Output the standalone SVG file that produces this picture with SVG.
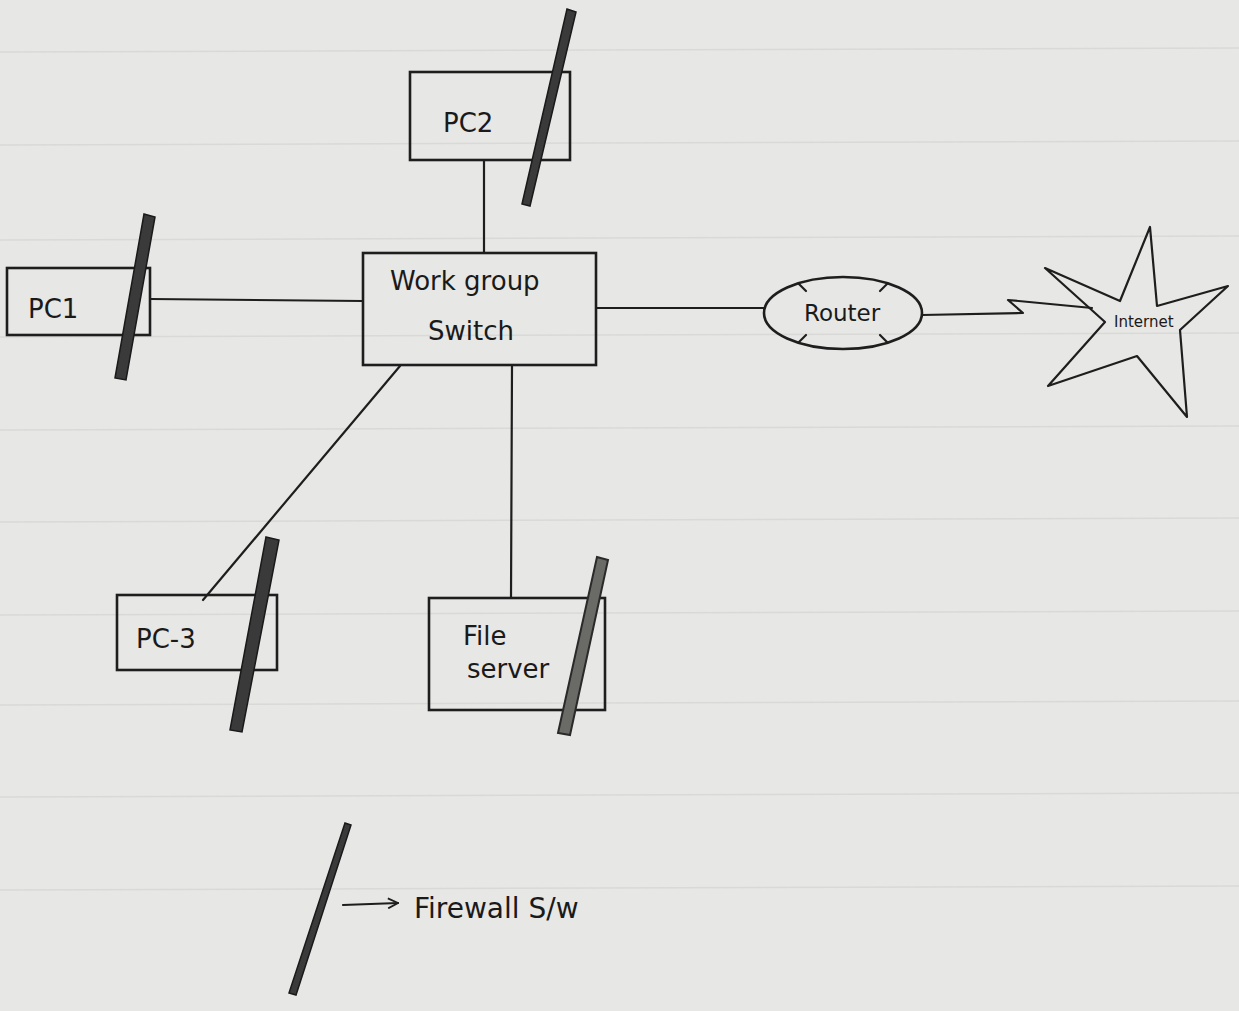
<svg xmlns="http://www.w3.org/2000/svg" width="1239" height="1011" viewBox="0 0 1239 1011">
<defs>
<style>
.box{fill:none;stroke:#1e1e1e;stroke-width:2.6}
.ln{fill:none;stroke:#1e1e1e;stroke-width:2.2;stroke-linecap:round;stroke-linejoin:round}
.fw{fill:#3a3a3a;stroke:#1a1a1a;stroke-width:1.5}
.fwl{fill:#6a6a66;stroke:#2a2a2a;stroke-width:2}
.lbl{font-family:"DejaVu Sans","Liberation Sans",sans-serif;fill:#1a1a1a;font-size:26px}
.rule{stroke:#d9d9d7;stroke-width:1.5}
</style>
<marker id="arr" viewBox="0 0 12 12" refX="11" refY="6" markerWidth="12" markerHeight="12" markerUnits="userSpaceOnUse" orient="auto">
<path d="M1,1 L11,6 L1,11" fill="none" stroke="#1e1e1e" stroke-width="1.8"/>
</marker>
</defs>
<rect width="1239" height="1011" fill="#e7e7e5"/>
<g id="paper-rules">
<line class="rule" x1="0" y1="52" x2="1239" y2="48"/>
<line class="rule" x1="0" y1="145" x2="1239" y2="141"/>
<line class="rule" x1="0" y1="240" x2="1239" y2="236"/>
<line class="rule" x1="0" y1="337" x2="1239" y2="333"/>
<line class="rule" x1="0" y1="430" x2="1239" y2="426"/>
<line class="rule" x1="0" y1="522" x2="1239" y2="518"/>
<line class="rule" x1="0" y1="615" x2="1239" y2="611"/>
<line class="rule" x1="0" y1="705" x2="1239" y2="701"/>
<line class="rule" x1="0" y1="797" x2="1239" y2="793"/>
<line class="rule" x1="0" y1="890" x2="1239" y2="886"/>
</g>
<g id="connectors">
<line class="ln" x1="484" y1="160" x2="484" y2="253"/>
<line class="ln" x1="150" y1="299" x2="363" y2="301"/>
<line class="ln" x1="596" y1="308" x2="765" y2="308"/>
<line class="ln" x1="400" y1="366" x2="203" y2="600"/>
<line class="ln" x1="512" y1="366" x2="511" y2="598"/>
<polyline class="ln" points="922,315 1023,313 1008,300 1092,308"/>
</g>
<g id="pc2">
<rect class="box" x="410" y="72" width="160" height="88"/>
<text class="lbl" x="443" y="132">PC2</text>
<polygon class="fw" points="567,9 576,12 530,206 522,204"/>
</g>
<g id="switch">
<rect class="box" x="363" y="253" width="233" height="112"/>
<text class="lbl" x="390" y="290">Work group</text>
<text class="lbl" x="428" y="340">Switch</text>
</g>
<g id="pc1">
<rect class="box" x="7" y="268" width="143" height="67"/>
<text class="lbl" x="28" y="318">PC1</text>
<polygon class="fw" points="144,214 155,217 126,380 115,378"/>
</g>
<g id="router">
<ellipse class="box" cx="843" cy="313" rx="79" ry="36"/>
<line class="ln" x1="799" y1="284" x2="806" y2="291"/>
<line class="ln" x1="887" y1="284" x2="880" y2="291"/>
<line class="ln" x1="799" y1="342" x2="806" y2="335"/>
<line class="ln" x1="887" y1="342" x2="880" y2="335"/>
<text class="lbl" x="804" y="321" style="font-size:23px">Router</text>
</g>
<g id="internet">
<polygon class="ln" stroke-width="2.6" points="1150,227 1157,306 1228,286 1180,330 1187,417 1137,356 1048,386 1105,322 1045,268 1120,301"/>
<text class="lbl" x="1114" y="327" style="font-size:15px">Internet</text>
</g>
<g id="pc3">
<rect class="box" x="117" y="595" width="160" height="75"/>
<text class="lbl" x="136" y="648">PC-3</text>
<polygon class="fw" points="266,537 279,540 242,732 230,730"/>
</g>
<g id="file-server">
<rect class="box" x="429" y="598" width="176" height="112"/>
<text class="lbl" x="463" y="645">File</text>
<text class="lbl" x="467" y="678">server</text>
<polygon class="fwl" points="597,557 608,560 570,735 558,733"/>
</g>
<g id="legend">
<polygon class="fw" points="345,823 351,825 296,995 289,993"/>
<line class="ln" x1="343" y1="905" x2="398" y2="903" marker-end="url(#arr)"/>
<text class="lbl" x="414" y="918" style="font-size:28px">Firewall S/w</text>
</g>
</svg>
